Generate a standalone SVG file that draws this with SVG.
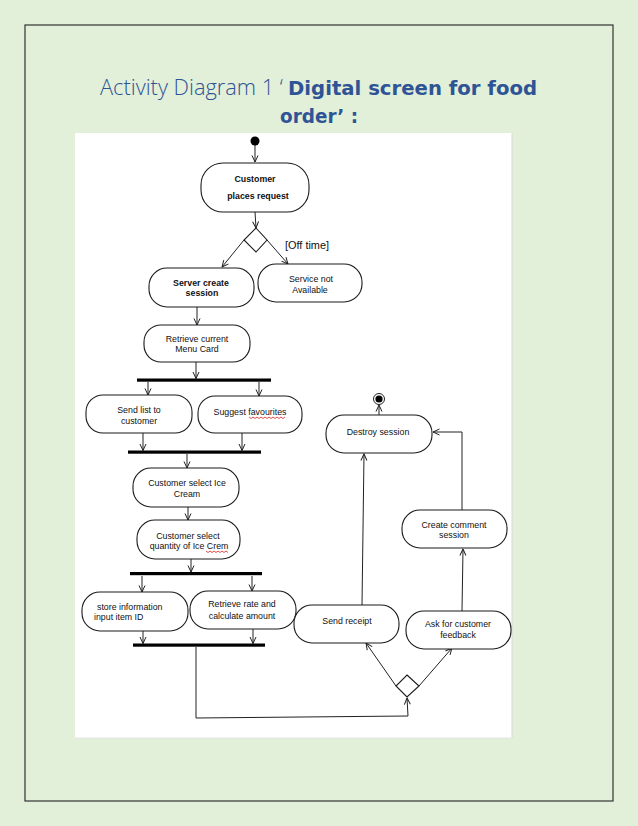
<svg xmlns="http://www.w3.org/2000/svg" width="638" height="826" viewBox="0 0 638 826">
<style>
.nd{fill:#fff;stroke:#1a1a1a;stroke-width:1.1}
.t{font-family:"Liberation Sans",Arial,sans-serif;font-size:8.8px;fill:#111;text-anchor:middle}
.b{font-weight:bold}
.l{text-anchor:start}
.c{fill:none;stroke:#222;stroke-width:1}
.bar{fill:#000}
.sq{fill:none;stroke:#d92020;stroke-width:0.8}
</style>
<defs>
<marker id="ah" viewBox="0 0 8 8" refX="7.5" refY="4" markerWidth="8" markerHeight="8" markerUnits="userSpaceOnUse" orient="auto">
<path d="M1,1 L7.5,4 L1,7" fill="none" stroke="#222" stroke-width="1"/>
</marker>
</defs>
<rect x="0" y="0" width="638" height="826" fill="#e2efd9"/>
<rect x="25" y="25" width="588" height="776" fill="none" stroke="#333" stroke-width="1.2"/>
<g id="title">
<text x="100" y="95" font-family="'Open Sans','Noto Sans',sans-serif" font-weight="300" font-size="22" fill="#2f5496" textLength="183" lengthAdjust="spacingAndGlyphs">Activity Diagram 1 ‘</text>
<text x="288" y="95" font-family="'DejaVu Sans',Verdana,sans-serif" font-weight="bold" font-size="20" fill="#2f5496" textLength="249" lengthAdjust="spacingAndGlyphs">Digital screen for food</text>
<text x="280" y="123" font-family="'DejaVu Sans',Verdana,sans-serif" font-weight="bold" font-size="20" fill="#2f5496" textLength="78" lengthAdjust="spacingAndGlyphs">order’ :</text>
</g>
<rect x="75" y="133" width="437" height="605" fill="#fff"/>
<line x1="512" y1="133" x2="512" y2="738" stroke="#d8d8d8" stroke-width="1"/>
<line x1="75" y1="738" x2="512" y2="738" stroke="#e4e4e4" stroke-width="1"/>

<g id="connectors">
<path class="c" d="M255,145 L255,162" marker-end="url(#ah)"/>
<path class="c" d="M255,212 L256,228" marker-end="url(#ah)"/>
<path class="c" d="M244,240 L222,267" marker-end="url(#ah)"/>
<path class="c" d="M267,240 L288,264" marker-end="url(#ah)"/>
<path class="c" d="M197,307 L197,325" marker-end="url(#ah)"/>
<path class="c" d="M196,362 L196,378.5" marker-end="url(#ah)"/>
<path class="c" d="M148,382 L148,395" marker-end="url(#ah)"/>
<path class="c" d="M259,382 L259,396" marker-end="url(#ah)"/>
<path class="c" d="M143,433 L143,450.5" marker-end="url(#ah)"/>
<path class="c" d="M242,433 L242,450.5" marker-end="url(#ah)"/>
<path class="c" d="M187,454 L187,468" marker-end="url(#ah)"/>
<path class="c" d="M188,507 L188,520" marker-end="url(#ah)"/>
<path class="c" d="M191,559 L191,572" marker-end="url(#ah)"/>
<path class="c" d="M142,576 L142,592" marker-end="url(#ah)"/>
<path class="c" d="M252,576 L252,591" marker-end="url(#ah)"/>
<path class="c" d="M143,631 L143,643.5" marker-end="url(#ah)"/>
<path class="c" d="M253,629 L253,643.5" marker-end="url(#ah)"/>
<path class="c" d="M196,647 L196,718 L408,716 L407,698" marker-end="url(#ah)"/>
<path class="c" d="M396,686 L366,643" marker-end="url(#ah)"/>
<path class="c" d="M419,686 L452,648" marker-end="url(#ah)"/>
<path class="c" d="M362,605 L364,454" marker-end="url(#ah)"/>
<path class="c" d="M462,611 L463,549" marker-end="url(#ah)"/>
<path class="c" d="M462,510 L462,432 L433,432" marker-end="url(#ah)"/>
<path class="c" d="M379,415 L379,405" marker-end="url(#ah)"/>
</g>

<g id="initial"><circle cx="255" cy="141" r="4.5" fill="#000"/></g>
<g id="final"><circle cx="379" cy="399" r="5.5" fill="#fff" stroke="#222" stroke-width="1"/><circle cx="379" cy="399" r="3.6" fill="#000"/></g>

<g id="n-request"><rect class="nd" x="201" y="163" width="108" height="49" rx="22" ry="22"/>
<text class="t b" x="255" y="182">Customer</text><text class="t b" x="258" y="199">places request</text></g>

<g id="decision1"><polygon class="nd" points="256,228 267,240 256,252 244,240"/>
<text x="285" y="249" font-family="'Liberation Sans',Arial,sans-serif" font-size="10" fill="#111" textLength="44" lengthAdjust="spacingAndGlyphs">[Off time]</text></g>

<g id="n-server"><rect class="nd" x="149" y="268" width="105" height="39" rx="18" ry="18"/>
<text class="t b" x="201" y="286">Server create</text><text class="t b" x="202" y="296">session</text></g>

<g id="n-service"><rect class="nd" x="258" y="264" width="104" height="38" rx="18" ry="18"/>
<text class="t" x="311" y="282">Service not</text><text class="t" x="310" y="293">Available</text></g>

<g id="n-menu"><rect class="nd" x="144" y="325" width="106" height="37" rx="17" ry="17"/>
<text class="t" x="197" y="342">Retrieve current</text><text class="t" x="197" y="352">Menu Card</text></g>

<g id="fork1"><rect class="bar" x="137" y="378.5" width="134" height="3.2"/></g>

<g id="n-sendlist"><rect class="nd" x="86" y="395" width="106" height="38" rx="17" ry="17"/>
<text class="t" x="139" y="413">Send list to</text><text class="t" x="139" y="424">customer</text></g>

<g id="n-suggest"><rect class="nd" x="198" y="396" width="104" height="37" rx="17" ry="17"/>
<text class="t" x="250" y="415">Suggest favourites</text>
<path class="sq" d="M249,417 l2,1.5 l2,-1.5 l2,1.5 l2,-1.5 l2,1.5 l2,-1.5 l2,1.5 l2,-1.5 l2,1.5 l2,-1.5 l2,1.5 l2,-1.5 l2,1.5 l2,-1.5 l2,1.5 l2,-1.5 l2,1.5 l2,-1.5"/></g>

<g id="join1"><rect class="bar" x="128" y="450.5" width="133" height="3.2"/></g>

<g id="n-select"><rect class="nd" x="133" y="468" width="106" height="39" rx="18" ry="18"/>
<text class="t" x="187" y="486">Customer select Ice</text><text class="t" x="187" y="497">Cream</text></g>

<g id="n-quantity"><rect class="nd" x="137" y="520" width="103" height="39" rx="18" ry="18"/>
<text class="t" x="188" y="539">Customer select</text><text class="t" x="189" y="549">quantity of Ice Crem</text>
<path class="sq" d="M206,551 l2,1.5 l2,-1.5 l2,1.5 l2,-1.5 l2,1.5 l2,-1.5 l2,1.5 l2,-1.5 l2,1.5 l2,-1.5 l2,1.5"/></g>

<g id="fork2"><rect class="bar" x="130" y="572" width="132" height="3.2"/></g>

<g id="n-store"><rect class="nd" x="82" y="592" width="106" height="39" rx="18" ry="18"/>
<text class="t l" x="97" y="610">store information</text><text class="t l" x="94" y="620">input item ID</text></g>

<g id="n-rate"><rect class="nd" x="190" y="591" width="106" height="38" rx="18" ry="18"/>
<text class="t" x="242" y="607" font-size="9.5">Retrieve rate and</text><text class="t" x="242" y="619" font-size="9.5">calculate amount</text></g>

<g id="join2"><rect class="bar" x="133" y="643.5" width="132" height="3.2"/></g>

<g id="decision2"><polygon class="nd" points="407,675 419,686 407,697 396,686"/></g>

<g id="n-receipt"><rect class="nd" x="294" y="605" width="105" height="38" rx="18" ry="18"/>
<text class="t" x="347" y="624">Send receipt</text></g>

<g id="n-feedback"><rect class="nd" x="406" y="611" width="105" height="38" rx="18" ry="18"/>
<text class="t" x="458" y="627">Ask for customer</text><text class="t" x="458" y="638">feedback</text></g>

<g id="n-comment"><rect class="nd" x="402" y="510" width="105" height="38" rx="18" ry="18"/>
<text class="t" x="454" y="528">Create comment</text><text class="t" x="454" y="538">session</text></g>

<g id="n-destroy"><rect class="nd" x="326" y="415" width="106" height="38" rx="18" ry="18"/>
<text class="t" x="378" y="435">Destroy session</text></g>
</svg>
